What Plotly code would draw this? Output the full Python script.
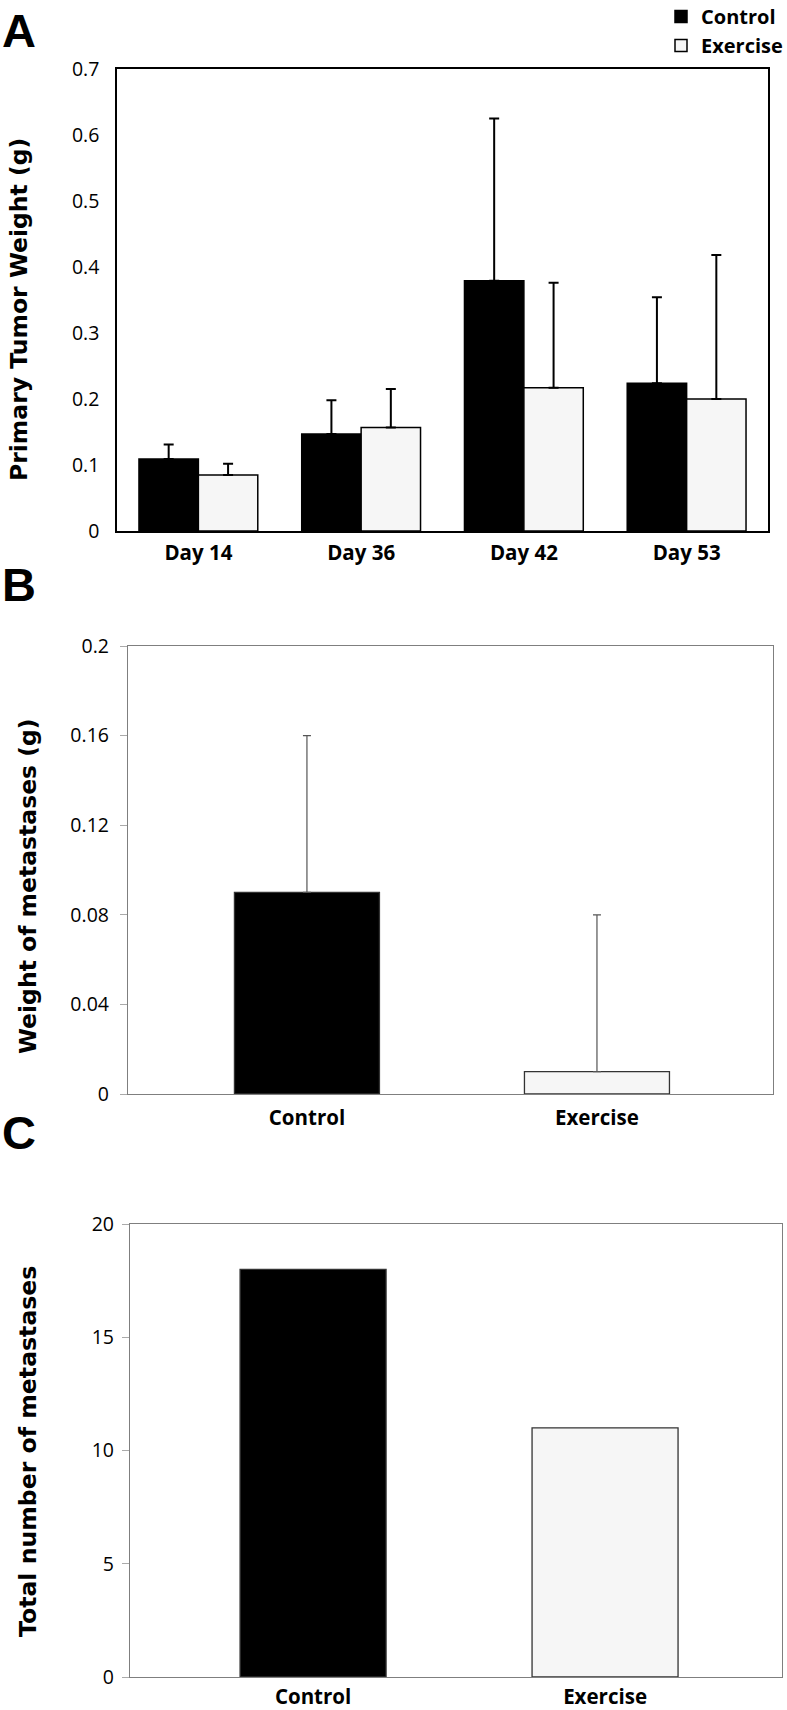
import plotly.graph_objects as go

W, H = 787, 1710

# ---- Data ----
days = ["Day 14", "Day 36", "Day 42", "Day 53"]
tumor_control = [0.109, 0.147, 0.379, 0.224]
tumor_control_err = [0.022, 0.051, 0.246, 0.130]
tumor_exercise = [0.085, 0.157, 0.217, 0.200]
tumor_exercise_err = [0.017, 0.058, 0.159, 0.218]

groups = ["Control", "Exercise"]
met_weight = [0.09, 0.01]
met_weight_err = [0.07, 0.07]
met_weight_ticks = [0, 0.04, 0.08, 0.12, 0.16, 0.2]
met_weight_ticktext = ["0", "0.04", "0.08", "0.12", "0.16", "0.2"]

met_count = [18, 11]
met_count_ticks = [0, 5, 10, 15, 20]

# ---- Style ----
BLACK = "#000000"
LIGHT = "#f6f6f6"
GRAY = "#7f7f7f"
TICKFONT = dict(family="Open Sans, Liberation Sans, sans-serif", size=19.5, color="#000")
CATFONT = dict(family="Open Sans, Liberation Sans, sans-serif", size=20.5, color="#000", weight="bold")
TITLEFONT = dict(family="DejaVu Sans, Verdana, sans-serif", size=23.5, color="#000", weight="bold")
LETTERFONT = dict(family="Liberation Sans, Arial, sans-serif", size=47, color="#000", weight="bold")


def px_x(a, b):
    return [a / W, b / W]


def px_y(top, bottom):
    return [1 - bottom / H, 1 - top / H]


fig = go.Figure()

# Panel A
fig.add_trace(go.Bar(
    x=days, y=tumor_control, name="Control",
    marker=dict(color=BLACK, line=dict(color=BLACK, width=1.5)),
    error_y=dict(type="data", array=tumor_control_err, symmetric=False,
                 arrayminus=[0] * 4, color=BLACK, thickness=2, width=5),
    xaxis="x", yaxis="y", showlegend=True,
))
fig.add_trace(go.Bar(
    x=days, y=tumor_exercise, name="Exercise",
    marker=dict(color=LIGHT, line=dict(color=BLACK, width=1.5)),
    error_y=dict(type="data", array=tumor_exercise_err, symmetric=False,
                 arrayminus=[0] * 4, color=BLACK, thickness=2, width=5),
    xaxis="x", yaxis="y", showlegend=True,
))

# Panel B
fig.add_trace(go.Bar(
    x=groups, y=met_weight, width=0.5,
    marker=dict(color=[BLACK, LIGHT], line=dict(color="#333333", width=1.3)),
    error_y=dict(type="data", array=met_weight_err, symmetric=False,
                 arrayminus=[0, 0], color="#555555", thickness=1.2, width=4),
    xaxis="x2", yaxis="y2", showlegend=False,
))

# Panel C
fig.add_trace(go.Bar(
    x=groups, y=met_count, width=0.5,
    marker=dict(color=[BLACK, LIGHT], line=dict(color="#333333", width=1.3)),
    xaxis="x3", yaxis="y3", showlegend=False,
))

fig.update_layout(
    width=W, height=H,
    margin=dict(l=0, r=0, t=0, b=0, autoexpand=False),
    paper_bgcolor="white", plot_bgcolor="white",
    barmode="group", bargap=0.27, bargroupgap=0,
    legend=dict(
        x=661 / W, y=1 + 3 / H, xanchor="left", yanchor="top",
        font=dict(family="Open Sans, Liberation Sans, sans-serif", size=20, color="#000", weight="bold"),
        bgcolor="rgba(0,0,0,0)", tracegroupgap=0, itemclick=False,
    ),
    xaxis=dict(domain=px_x(117, 768), anchor="y", type="category",
               showline=True, linecolor=BLACK, linewidth=1.5, mirror=True,
               ticks="", tickfont=CATFONT, ticklabelstandoff=3, showgrid=False),
    yaxis=dict(domain=px_y(69, 531), anchor="x", range=[0, 0.7],
               tickvals=[0, 0.1, 0.2, 0.3, 0.4, 0.5, 0.6, 0.7],
               ticktext=["0", "0.1", "0.2", "0.3", "0.4", "0.5", "0.6", "0.7"],
               showline=True, linecolor=BLACK, linewidth=1.5, mirror=True,
               ticks="", tickfont=TICKFONT, ticklabelstandoff=12, showgrid=False,
               zeroline=False),
    xaxis2=dict(domain=px_x(128, 773), anchor="y2", type="category",
                range=[-0.617, 1.607],
                showline=True, linecolor=GRAY, linewidth=1.3, mirror=True,
                ticks="", tickfont=CATFONT, ticklabelstandoff=5, showgrid=False),
    yaxis2=dict(domain=px_y(646, 1094), anchor="x2", range=[0, 0.2],
                tickvals=met_weight_ticks, ticktext=met_weight_ticktext,
                showline=True, linecolor=GRAY, linewidth=1.3, mirror=True,
                ticks="outside", ticklen=7, tickcolor="#aaaaaa", tickwidth=1.3,
                tickfont=TICKFONT, ticklabelstandoff=7, showgrid=False,
                zeroline=False),
    xaxis3=dict(domain=px_x(130, 782), anchor="y3", type="category",
                range=[-0.627, 1.606],
                showline=True, linecolor=GRAY, linewidth=1.3, mirror=True,
                ticks="", tickfont=CATFONT, ticklabelstandoff=1, showgrid=False),
    yaxis3=dict(domain=px_y(1224, 1677), anchor="x3", range=[0, 20],
                tickvals=met_count_ticks,
                showline=True, linecolor=GRAY, linewidth=1.3, mirror=True,
                ticks="outside", ticklen=7, tickcolor="#aaaaaa", tickwidth=1.3,
                tickfont=TICKFONT, ticklabelstandoff=4, showgrid=False,
                zeroline=False),
)

annotations = []
# Panel letters
for letter, yc in [("A", 30), ("B", 584), ("C", 1132)]:
    annotations.append(dict(text=letter, x=0, y=1 - yc / H, xref="paper", yref="paper",
                            xanchor="left", yanchor="middle", showarrow=False,
                            font=LETTERFONT))
# Y axis titles
for text, xc, yc, size in [("Primary Tumor Weight (g)", 19, 310, 23.5),
                           ("Weight of metastases (g)", 28, 886, 23.5),
                           ("Total number of metastases", 28, 1452, 23.6)]:
    f = dict(TITLEFONT)
    f["size"] = size
    annotations.append(dict(text=text, x=xc / W, y=1 - yc / H, xref="paper", yref="paper",
                            xanchor="center", yanchor="middle", showarrow=False,
                            textangle=-90, font=f))
fig.update_layout(annotations=annotations)

fig.write_html("out.html",
               config=dict(displayModeBar=False),
               post_script="document.body.style.margin='0px';document.body.style.overflow='hidden';")
